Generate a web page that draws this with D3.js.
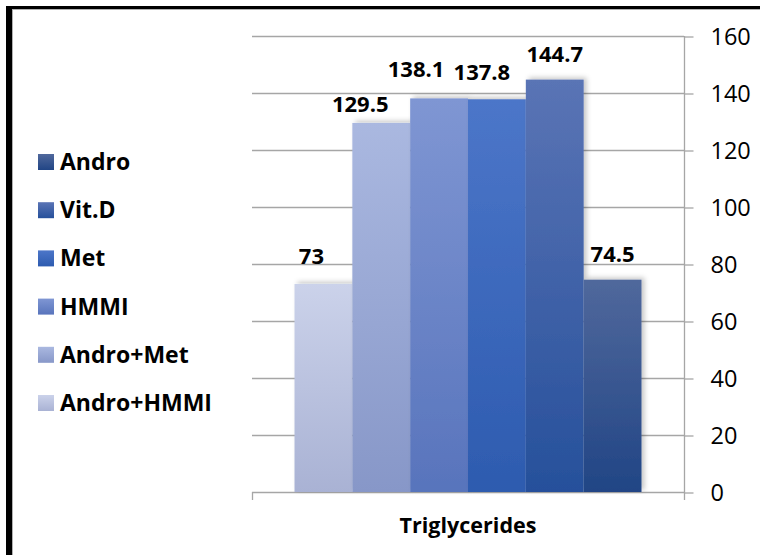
<!DOCTYPE html>
<html>
<head>
<meta charset="utf-8">
<script src="https://cdn.jsdelivr.net/npm/d3@7"></script>
<style>
  html, body { margin: 0; padding: 0; background: #fff; }
  svg { display: block; }
  text { font-family: "Open Sans", "Liberation Sans", sans-serif; fill: #000; }
</style>
</head>
<body>
<svg id="chart" width="760" height="555"></svg>
<script>
// Triglycerides by treatment group
const categories = ["Triglycerides"];
const seriesNames = ["Andro+HMMI", "Andro+Met", "HMMI", "Met", "Vit.D", "Andro"];
const seriesValues = [73, 129.5, 138.1, 137.8, 144.7, 74.5];
const yTicks = [0, 20, 40, 60, 80, 100, 120, 140, 160];

// Gradient stops (top, bottom) for each series
const topColors = ["#cbd2ea", "#aab8e0", "#7f96d3", "#4c76c9", "#5a74b5", "#50689c"];
const bottomColors = ["#a9b2d4", "#8797c8", "#5874bc", "#2d5baf", "#26509b", "#214585"];
// Value-label nudges [dx, gap above bar top]
const labelNudge = [[-12, 20], [-21, 11], [-23, 21], [-15, 19], [0, 18], [0, 18]];

const svg = d3.select("#chart");
const defs = svg.append("defs");

seriesNames.forEach((s, i) => {
  const g = defs.append("linearGradient")
    .attr("id", "grad" + i).attr("x1", 0).attr("y1", 0).attr("x2", 0).attr("y2", 1);
  g.append("stop").attr("offset", "0%").attr("stop-color", topColors[i]);
  g.append("stop").attr("offset", "100%").attr("stop-color", bottomColors[i]);
});

const shadow = defs.append("filter").attr("id", "shadow")
  .attr("x", "-20%").attr("y", "-20%").attr("width", "140%").attr("height", "140%");
shadow.append("feDropShadow").attr("dx", 3).attr("dy", -2)
  .attr("stdDeviation", 2.5).attr("flood-color", "#000").attr("flood-opacity", 0.22);

// Frame
svg.append("rect").attr("x", 0).attr("y", 0).attr("width", 760).attr("height", 555).attr("fill", "#fff");
svg.append("line").attr("x1", 12.5).attr("x2", 12.5).attr("y1", 9).attr("y2", 555)
  .attr("stroke", "#b0b0b0").attr("stroke-width", 1);
svg.append("line").attr("x1", 12).attr("x2", 760).attr("y1", 9.5).attr("y2", 9.5)
  .attr("stroke", "#b0b0b0").attr("stroke-width", 1);
svg.append("rect").attr("x", 6).attr("y", 6).attr("width", 6).attr("height", 549).attr("fill", "#000");
svg.append("rect").attr("x", 6).attr("y", 6).attr("width", 754).attr("height", 3).attr("fill", "#000");

// Scales
const plotLeft = 252, plotRight = 684, plotTop = 36, plotBottom = 492;
const y = d3.scaleLinear().domain([0, 160]).range([plotBottom, plotTop]);
const x = d3.scaleBand().domain(categories).range([plotLeft, plotRight]).padding(0);
const xs = d3.scaleBand().domain(seriesNames).range([0, x.bandwidth()])
  .paddingInner(0).paddingOuter(0.735);

const gridColor = "#a6a6a6";

// Gridlines
svg.append("g").selectAll("line").data(yTicks).join("line")
  .attr("x1", plotLeft).attr("x2", plotRight)
  .attr("y1", d => Math.round(y(d)) + 0.5).attr("y2", d => Math.round(y(d)) + 0.5)
  .attr("stroke", gridColor).attr("stroke-width", 1.3);

// Right value axis
const axis = d3.axisRight(y).tickValues(yTicks).tickSize(9).tickPadding(17);
const axisG = svg.append("g").attr("transform", `translate(${plotRight + 0.5},0.5)`).call(axis);
axisG.select(".domain").remove();
axisG.selectAll(".tick line").attr("stroke", gridColor).attr("stroke-width", 1.3);
axisG.selectAll(".tick text")
  .style("font-family", '"Open Sans", sans-serif').style("font-size", "23.5px").attr("fill", "#000");
svg.append("line").attr("x1", plotRight + 0.5).attr("x2", plotRight + 0.5)
  .attr("y1", plotTop).attr("y2", plotBottom + 8)
  .attr("stroke", gridColor).attr("stroke-width", 1.3);

// Category axis tick marks
svg.append("g").selectAll("line").data(categories).join("line")
  .attr("x1", d => x(d) + 0.5).attr("x2", d => x(d) + 0.5)
  .attr("y1", plotBottom).attr("y2", plotBottom + 8)
  .attr("stroke", gridColor).attr("stroke-width", 1.3);

// Bars
const rows = seriesNames.map((s, i) => ({ name: s, value: seriesValues[i], i }));
const barG = svg.append("g");
categories.forEach(cat => {
  barG.selectAll("rect.bar").data(rows).join("rect")
    .attr("class", "bar")
    .attr("x", d => x(cat) + xs(d.name))
    .attr("width", xs.bandwidth())
    .attr("y", d => y(d.value))
    .attr("height", d => y(0) - y(d.value))
    .attr("fill", d => `url(#grad${d.i})`)
    .attr("filter", "url(#shadow)");

  // Value labels
  svg.append("g").selectAll("text").data(rows).join("text")
    .attr("x", d => x(cat) + xs(d.name) + xs.bandwidth() / 2 + labelNudge[d.i][0])
    .attr("y", d => y(d.value) - labelNudge[d.i][1])
    .attr("text-anchor", "middle")
    .style("font-size", "22px").style("font-weight", "bold")
    .text(d => d.value);

  // Category label
  svg.append("text")
    .attr("x", x(cat) + x.bandwidth() / 2).attr("y", 533)
    .attr("text-anchor", "middle")
    .style("font-size", "21.5px").style("font-weight", "bold")
    .text(cat);
});

// Legend (reverse order, topmost = last series)
const legendRows = rows.slice().reverse();
const legend = svg.append("g").selectAll("g").data(legendRows).join("g")
  .attr("transform", (d, k) => `translate(38, ${154 + k * 48.2})`);
legend.append("rect").attr("width", 16).attr("height", 16)
  .attr("fill", d => `url(#grad${d.i})`);
legend.append("text").attr("x", 22).attr("y", 16)
  .style("font-size", "23px").style("font-weight", "bold")
  .text(d => d.name);
</script>
</body>
</html>
